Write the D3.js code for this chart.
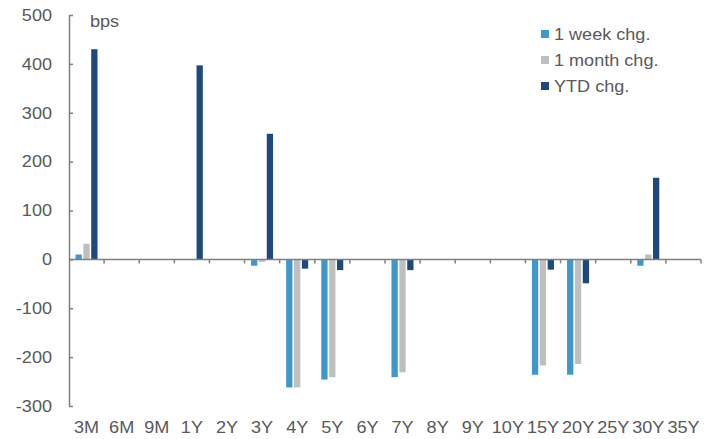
<!DOCTYPE html>
<html>
<head>
<meta charset="utf-8">
<script src="https://cdn.jsdelivr.net/npm/d3@7"></script>
<style>
  body { margin: 0; background: #fff; }
  text { font-family: "Liberation Sans", Arial, sans-serif; fill: #595959; font-size: 16px; }
</style>
</head>
<body>
<div id="chart"></div>
<script>
const width = 715, height = 439

// tenors on the x axis
const tenors = ["3M", "6M", "9M", "1Y", "2Y", "3Y", "4Y", "5Y", "6Y", "7Y", "8Y", "9Y", "10Y", "15Y", "20Y", "25Y", "30Y", "35Y"]
const seriesNames = ["1 week chg.", "1 month chg.", "YTD chg."]
const seriesColors = ["#3f97cc", "#bfbfbf", "#1f497d"]

// bps changes, null = no bar
const weekChg  = [10, null, null, null, null, -13, -262, -246, null, -241, null, null, null, -236, -236, null, -13, null]
const monthChg = [32, null, null, null, null, -5, -262, -241, null, -231, null, null, null, -217, -214, null, 10, null]
const ytdChg   = [430, null, null, 397, null, 257, -19, -22, null, -22, null, null, null, -21, -49, null, 167, null]

const yTicks = [500, 400, 300, 200, 100, 0, -100, -200, -300]

const plotLeft = 69, plotRight = 701, plotTop = 15, plotBottom = 406
const stretch = 1.13  // text in the original looks a bit wide

const svg = d3.select('#chart').append('svg')
    .attr('width', width)
    .attr('height', height)

const x = d3.scaleBand().domain(tenors).range([plotLeft, plotRight])
const xSub = d3.scaleBand().domain(seriesNames).range([6.5, 28.5]).paddingInner(0.2)
const y = d3.scaleLinear().domain([-300, 500]).range([plotBottom, plotTop])

const allSeries = [weekChg, monthChg, ytdChg]

function place(px, py) {
    return `translate(${px},${py}) scale(${stretch},1)`
}

// bars
allSeries.forEach((vals, si) => {
    const pts = vals.map((v, i) => ({ tenor: tenors[i], v })).filter(d => d.v !== null)
    svg.append('g').selectAll('rect')
        .data(pts)
        .enter()
        .append('rect')
        .attr('x', d => x(d.tenor) + xSub(seriesNames[si]))
        .attr('width', xSub.bandwidth())
        .attr('y', d => y(Math.max(0, d.v)))
        .attr('height', d => Math.abs(y(d.v) - y(0)))
        .attr('fill', seriesColors[si])
})

const axisColor = '#7f7f7f'

// y axis (ticks inward)
const yAxis = svg.append('g')
    .attr('transform', `translate(${plotLeft},0)`)
    .call(d3.axisRight(y).tickValues(yTicks).tickSize(4).tickSizeOuter(0).tickFormat(''))
yAxis.select('.domain').attr('stroke', axisColor).attr('stroke-width', 1.5)
yAxis.selectAll('.tick line').attr('stroke', axisColor).attr('stroke-width', 1.5)

svg.append('g').selectAll('text')
    .data(yTicks)
    .enter()
    .append('text')
    .attr('transform', d => place(52, y(d)))
    .attr('dy', '0.36em')
    .attr('text-anchor', 'end')
    .text(d => d)

// x axis at zero
const xTickPos = tenors.map(t => x(t) + x.bandwidth())
svg.append('line')
    .attr('x1', plotLeft).attr('x2', plotRight)
    .attr('y1', y(0)).attr('y2', y(0))
    .attr('stroke', axisColor).attr('stroke-width', 1.5)
svg.append('g').selectAll('line')
    .data(xTickPos)
    .enter()
    .append('line')
    .attr('x1', d => d).attr('x2', d => d)
    .attr('y1', y(0)).attr('y2', y(0) + 4)
    .attr('stroke', axisColor).attr('stroke-width', 1.5)

svg.append('g').selectAll('text')
    .data(tenors)
    .enter()
    .append('text')
    .attr('transform', d => place(x(d) + x.bandwidth() / 2, 433))
    .attr('text-anchor', 'middle')
    .text(d => d)

// unit label
svg.append('text')
    .attr('transform', place(90, 27))
    .text('bps')

// legend
const legend = svg.append('g').attr('transform', 'translate(541,34)')
seriesNames.forEach((name, i) => {
    const g = legend.append('g').attr('transform', `translate(0,${i * 26})`)
    g.append('rect').attr('x', 0).attr('y', -4).attr('width', 8).attr('height', 8).attr('fill', seriesColors[i])
    g.append('text').attr('transform', place(13, 0)).attr('dy', '0.36em').text(name)
})
</script>
</body>
</html>
